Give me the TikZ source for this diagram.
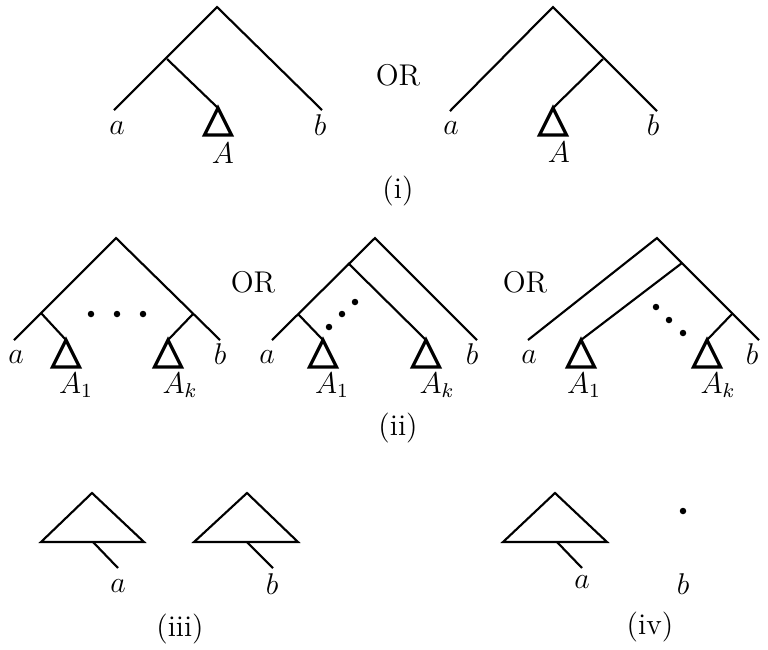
\documentclass[tikz,border=0pt]{standalone}
\usetikzlibrary{positioning}
\begin{document}
\begin{tikzpicture}[x=0.4pt,y=-0.4pt,
  edge/.style={line width=0.85pt},
  subtree/.style={line width=1.3pt, line join=miter},
  lbl/.style={inner sep=0pt, font=\fontsize{12}{14}\selectfont},
  dotnode/.style={circle, fill, inner sep=0pt, minimum size=2.6pt}]
  \useasboundingbox (0,0) rectangle (768,649);

  % (i), left tree
  \coordinate (ra) at (217,7);
  \coordinate (na) at (167,59);
  \coordinate (aa) at (114,110);
  \coordinate (ta) at (218,108);
  \coordinate (ba) at (322,110);
  \draw[edge] (aa) -- (ra) -- (ba);
  \draw[edge] (na) -- (ta);
  \node[lbl] (la) at (117,128) {$a$};
  \node[lbl] (lb) at (320,125) {$b$};
  \node[lbl] (lA) at (223,153) {$A$};

  % (i), right tree
  \coordinate (rb) at (553,7);
  \coordinate (nb) at (603,59);
  \coordinate (ab) at (450,111);
  \coordinate (tb) at (553,108);
  \coordinate (bb) at (657,111);
  \draw[edge] (ab) -- (rb) -- (bb);
  \draw[edge] (nb) -- (tb);
  \node[lbl] (la2) at (451,128) {$a$};
  \node[lbl] (lb2) at (653,125) {$b$};
  \node[lbl] (lA2) at (559,152) {$A$};

  \node[lbl] (or1) at (398,75) {OR};
  \node[lbl] (cap1) at (398,191) {(i)};

  % (ii), first tree
  \coordinate (rc) at (116,238);
  \coordinate (nc1) at (41,313);
  \coordinate (nc2) at (193,314);
  \coordinate (ac) at (14,340);
  \coordinate (tc1) at (66,340);
  \coordinate (tck) at (168,340);
  \coordinate (bc) at (220,340);
  \draw[edge] (ac) -- (rc) -- (bc);
  \draw[edge] (nc1) -- (tc1);
  \draw[edge] (nc2) -- (tck);
  \foreach \x in {91,117,143}
    \node[dotnode] at (\x,314) {};
  \node[lbl] (lc) at (16,357) {$a$};
  \node[lbl] (lcb) at (220,354) {$b$};
  \node[lbl] (lc1) at (76,385) {$A_1$};
  \node[lbl] (lck) at (180,385) {$A_k$};

  % (ii), second tree
  \coordinate (rd) at (375,238);
  \coordinate (nd1) at (348,263);
  \coordinate (nd2) at (298,314);
  \coordinate (ad) at (272,340);
  \coordinate (td1) at (323,340);
  \coordinate (tdk) at (426,340);
  \coordinate (bd) at (477,340);
  \draw[edge] (ad) -- (rd) -- (bd);
  \draw[edge] (nd1) -- (tdk);
  \draw[edge] (nd2) -- (td1);
  \node[dotnode] at (329,327) {};
  \node[dotnode] at (342,314) {};
  \node[dotnode] at (355,302) {};
  \node[lbl] (ld) at (267,357) {$a$};
  \node[lbl] (ldb) at (472,354) {$b$};
  \node[lbl] (ld1) at (332,385) {$A_1$};
  \node[lbl] (ldk) at (437,385) {$A_k$};

  % (ii), third tree
  \coordinate (re) at (657,238);
  \coordinate (ne1) at (682,263);
  \coordinate (ne2) at (732,314);
  \coordinate (ae) at (528,340);
  \coordinate (te1) at (581,340);
  \coordinate (tek) at (707,340);
  \coordinate (be) at (759,340);
  \draw[edge] (ae) -- (re) -- (be);
  \draw[edge] (ne1) -- (te1);
  \draw[edge] (ne2) -- (tek);
  \node[dotnode] at (656,307) {};
  \node[dotnode] at (669,320) {};
  \node[dotnode] at (683,333) {};
  \node[lbl] (le) at (529,357) {$a$};
  \node[lbl] (leb) at (752,354) {$b$};
  \node[lbl] (le1) at (584,385) {$A_1$};
  \node[lbl] (lek) at (718,385) {$A_k$};

  \node[lbl] (or2) at (253,282) {OR};
  \node[lbl] (or3) at (525,282) {OR};
  \node[lbl] (cap2) at (398,428) {(ii)};

  % small subtrees
  \foreach \t in {ta,tb,tc1,tck,td1,tdk,te1,tek}
    \draw[subtree] (\t) -- ++(-13.5,27) -- ++(27,0) -- cycle;

  % (iii)
  \coordinate (pa) at (92,493);
  \coordinate (pa1) at (41,542);
  \coordinate (pa2) at (144,542);
  \coordinate (sa) at (93,542);
  \coordinate (ea) at (118,568);
  \draw[edge] (pa) -- (pa1) -- (pa2) -- cycle;
  \draw[edge] (sa) -- (ea);
  \node[lbl] (lpa) at (118,586) {$a$};

  \coordinate (pb) at (247,493);
  \coordinate (pb1) at (194,542);
  \coordinate (pb2) at (298,542);
  \coordinate (sb) at (247,542);
  \coordinate (eb) at (273,568);
  \draw[edge] (pb) -- (pb1) -- (pb2) -- cycle;
  \draw[edge] (sb) -- (eb);
  \node[lbl] (lpb) at (272,584) {$b$};

  \node[lbl] (cap3) at (180,629) {(iii)};

  % (iv)
  \coordinate (pc) at (555,493);
  \coordinate (pc1) at (503,542);
  \coordinate (pc2) at (607,542);
  \coordinate (sc) at (557,542);
  \coordinate (ec) at (582,568);
  \draw[edge] (pc) -- (pc1) -- (pc2) -- cycle;
  \draw[edge] (sc) -- (ec);
  \node[lbl] (lpc) at (582,582) {$a$};
  \node[dotnode] (pt) at (683,511) {};
  \node[lbl] (lpt) at (683,584) {$b$};

  \node[lbl] (cap4) at (650,627) {(iv)};
\end{tikzpicture}
\end{document}
